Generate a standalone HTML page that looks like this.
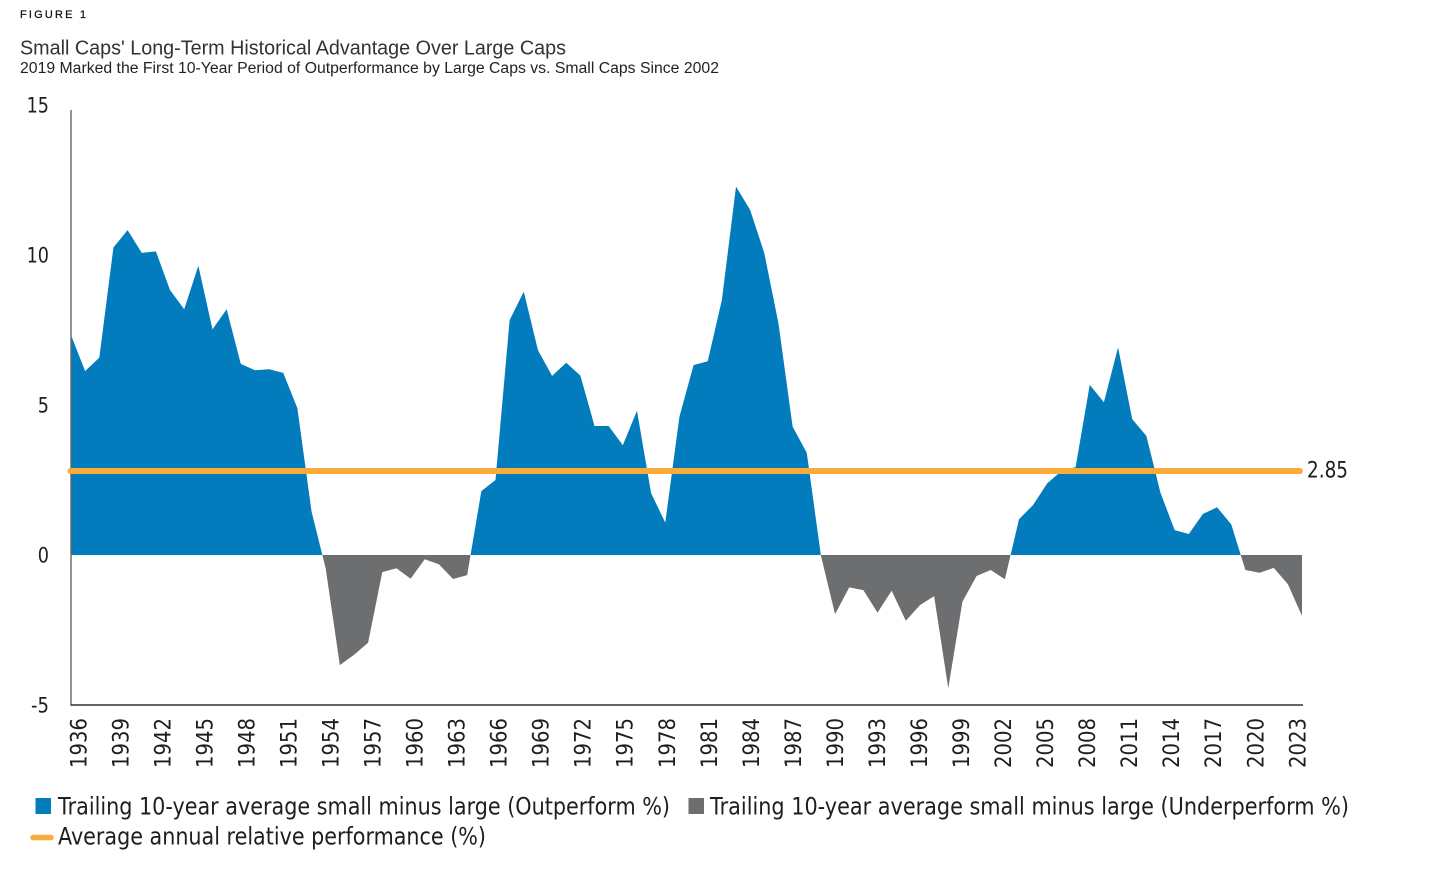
<!DOCTYPE html>
<html lang="en">
<head>
<meta charset="utf-8">
<title>Small Caps' Long-Term Historical Advantage Over Large Caps</title>
<style>
html,body{margin:0;padding:0;background:#fff;}
svg{display:block;}
.sans{font-family:"Liberation Sans",sans-serif;}
.open{font-family:"DejaVu Sans","Liberation Sans",sans-serif;fill:#1e1e1e;}
</style>
</head>
<body>
<svg id="chart" xmlns="http://www.w3.org/2000/svg" width="1456" height="873" viewBox="0 0 1456 873">
  <rect x="0" y="0" width="1456" height="873" fill="#ffffff"/>
  <text class="sans" x="20" y="18" font-size="11" fill="#111" stroke="#111" stroke-width="0.25" textLength="66" lengthAdjust="spacing">FIGURE 1</text>
  <text class="sans" x="20" y="54.5" font-size="20" fill="#333333" textLength="546" lengthAdjust="spacingAndGlyphs">Small Caps' Long-Term Historical Advantage Over Large Caps</text>
  <text class="sans" x="20" y="73" font-size="15.3" fill="#222222" textLength="699" lengthAdjust="spacingAndGlyphs">2019 Marked the First 10-Year Period of Outperformance by Large Caps vs. Small Caps Since 2002</text>

  <g id="plot"></g>

  <g>
    <g>
      <rect x="35.5" y="798" width="15.5" height="16" fill="#027cbd"/>
      <text class="open" x="58" y="814.5" font-size="24" textLength="612" lengthAdjust="spacingAndGlyphs">Trailing 10-year average small minus large (Outperform %)</text>
    </g>
    <g>
      <rect x="688.5" y="798" width="15.5" height="16" fill="#6d6e70"/>
      <text class="open" x="710" y="814.5" font-size="24" textLength="639" lengthAdjust="spacingAndGlyphs">Trailing 10-year average small minus large (Underperform %)</text>
    </g>
    <g>
      <line x1="33" y1="837.5" x2="51" y2="837.5" stroke="#f9ac3a" stroke-width="5.5" stroke-linecap="round"/>
      <text class="open" x="58" y="844.5" font-size="24" textLength="428" lengthAdjust="spacingAndGlyphs">Average annual relative performance (%)</text>
    </g>
  </g>
</svg>
<script>
const firstYear = 1936;
const relativePerformance = [
  7.33, 6.13, 6.58, 10.25, 10.83, 10.07, 10.12, 8.83, 8.19, 9.64,
  7.52, 8.19, 6.37, 6.16, 6.19, 6.07, 4.89, 1.45, -0.45, -3.67,
  -3.33, -2.92, -0.57, -0.44, -0.79, -0.14, -0.31, -0.80, -0.67, 2.13,
  2.50, 7.83, 8.78, 6.83, 5.97, 6.41, 5.98, 4.30, 4.30, 3.66,
  4.81, 2.06, 1.08, 4.61, 6.33, 6.46, 8.50, 12.28, 11.50, 10.06,
  7.72, 4.28, 3.41, -0.02, -1.97, -1.08, -1.17, -1.92, -1.19, -2.19,
  -1.67, -1.37, -4.44, -1.56, -0.70, -0.50, -0.81, 1.19, 1.67, 2.39,
  2.80, 2.93, 5.67, 5.09, 6.92, 4.53, 3.97, 2.07, 0.83, 0.70,
  1.37, 1.59, 1.02, -0.50, -0.59, -0.43, -0.97, -2.03
];
const averageRelative = [2.85];
const yTickValues = [15, 10, 5, 0, -5];
const xTickYears = [1936, 1939, 1942, 1945, 1948, 1951, 1954, 1957, 1960, 1963, 1966, 1969, 1972, 1975, 1978, 1981, 1984, 1987, 1990, 1993, 1996, 1999, 2002, 2005, 2008, 2011, 2014, 2017, 2020, 2023];

const NS = 'http://www.w3.org/2000/svg';
const plot = document.getElementById('plot');
const xOf = function (year) { return 71 + (year - firstYear) * (1231 / 87); };
const yOf = function (v) { return 555 - v * 30; };
const labelXOf = function (year) { return 78 + (year - firstYear) * (1219 / 87); };

function make(tag, attrs) {
  const el = document.createElementNS(NS, tag);
  Object.keys(attrs).forEach(function (k) { el.setAttribute(k, attrs[k]); });
  return el;
}

function areaPath(sign) {
  let d = 'M' + xOf(firstYear) + ' ' + yOf(0);
  relativePerformance.forEach(function (v, i) {
    const year = firstYear + i;
    if (i > 0) {
      const prev = relativePerformance[i - 1];
      if ((prev > 0 && v < 0) || (prev < 0 && v > 0)) {
        const t = prev / (prev - v);
        d += ' L' + xOf(year - 1 + t) + ' ' + yOf(0);
      }
    }
    const clamped = sign > 0 ? Math.max(v, 0) : Math.min(v, 0);
    d += ' L' + xOf(year) + ' ' + yOf(clamped);
  });
  d += ' L' + xOf(firstYear + relativePerformance.length - 1) + ' ' + yOf(0) + ' Z';
  return d;
}

const outperformArea = make('path', { d: areaPath(1), fill: '#027cbd' });


plot.appendChild(outperformArea);

const underperformArea = make('path', { d: areaPath(-1), fill: '#6d6e70' });


plot.appendChild(underperformArea);

const yAxisLine = make('line', { x1: 71, y1: 110, x2: 71, y2: 705.5, stroke: '#666', 'stroke-width': 1.4 });


plot.appendChild(yAxisLine);

const xAxisLine = make('line', { x1: 70.5, y1: 705, x2: 1303, y2: 705, stroke: '#333', 'stroke-width': 1.5 });


plot.appendChild(xAxisLine);

const averageLine = make('line', {
  x1: 70.5, x2: xOf(2023) - 2,
  y1: yOf(averageRelative[0]) + 1.5, y2: yOf(averageRelative[0]) + 1.5,
  stroke: '#f9ac3a', 'stroke-width': 6, 'stroke-linecap': 'round'
});


plot.appendChild(averageLine);

const averageLabel = make('text', {
  x: xOf(2023) + 5, y: yOf(averageRelative[0]) + 8,
  'font-size': 22.5, textLength: 41, lengthAdjust: 'spacingAndGlyphs', class: 'open'
});


averageLabel.textContent = averageRelative[0].toFixed(2);
plot.appendChild(averageLabel);

yTickValues.forEach(function (v) {
  const str = String(v);
  const label = make('text', {
    x: 49, y: yOf(v) + 7.5, 'text-anchor': 'end', 'font-size': 21,
    textLength: v < 0 ? 18 : str.length * 11.2, lengthAdjust: 'spacingAndGlyphs', class: 'open'
  });
  
  
  label.textContent = str;
  plot.appendChild(label);
});

xTickYears.forEach(function (year) {
  const cx = labelXOf(year);
  const label = make('text', {
    transform: 'translate(' + (cx + 8.3) + ' 768) rotate(-90)',
    'font-size': 22.5, textLength: 50, lengthAdjust: 'spacingAndGlyphs', class: 'open'
  });
  
  
  label.textContent = String(year);
  plot.appendChild(label);
});
</script>
</body>
</html>
